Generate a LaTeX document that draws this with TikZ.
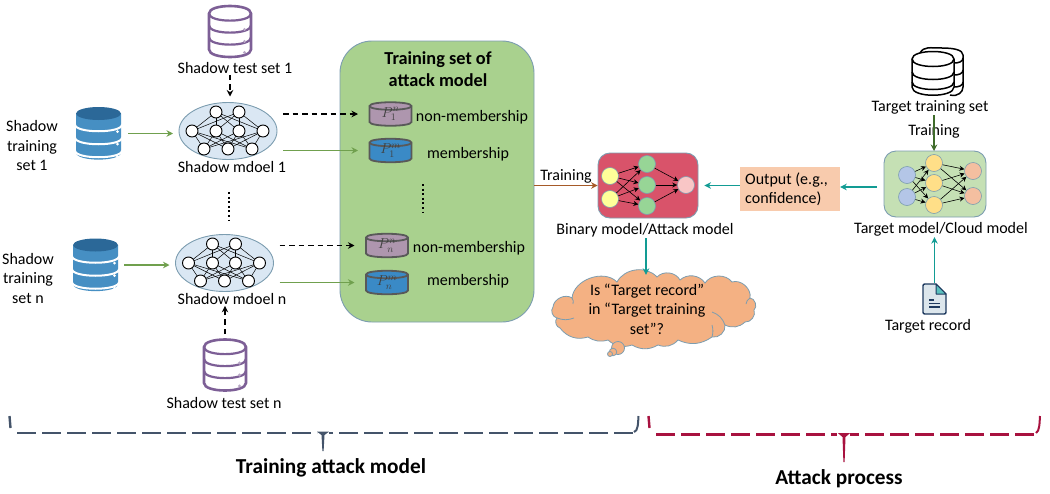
\documentclass[tikz,border=0pt]{standalone}
\usepackage{fontspec}
\setmainfont{Carlito}
\usetikzlibrary{arrows.meta,calc,shapes.geometric}
\definecolor{boxgreen}{HTML}{A9D18E}
\definecolor{boxedge}{HTML}{7C9DB0}
\definecolor{arrowgreen}{HTML}{70A04E}
\definecolor{darkgreen}{HTML}{3F6B2A}
\definecolor{teal1}{HTML}{129C94}
\definecolor{brown1}{HTML}{A65A28}
\definecolor{navy1}{HTML}{44546A}
\definecolor{crimson}{HTML}{A8123F}
\definecolor{dbblue}{HTML}{468FC3}
\definecolor{dbtop}{HTML}{2B6898}
\definecolor{dbpurple}{HTML}{7D5F96}
\definecolor{cylgray}{HTML}{595959}
\definecolor{cylpurple}{HTML}{AE96AE}
\definecolor{cylblue}{HTML}{3A8AC6}
\definecolor{ellfill}{HTML}{DAE7F3}
\definecolor{ylw}{HTML}{FFFF99}
\definecolor{grn}{HTML}{97D596}
\definecolor{pnk}{HTML}{F9C6C6}
\definecolor{bluen}{HTML}{B4C6E7}
\definecolor{ylw2}{HTML}{FFDF88}
\definecolor{sal}{HTML}{F4BFA0}
\definecolor{binred}{HTML}{D9536A}
\definecolor{cloudfill}{HTML}{F4B183}
\definecolor{outfill}{HTML}{F8CBAD}
\definecolor{tarfill}{HTML}{C5E0B4}
\definecolor{docfill}{HTML}{DCE6EC}
\definecolor{docedge}{HTML}{1F3A5F}
\definecolor{docfold}{HTML}{5BC0BE}
\tikzset{
 x=1pt,y=-1pt,
 txt/.style={inner sep=1pt,font=\fontsize{16}{19.5}\selectfont,align=center},
 ttl/.style={inner sep=1pt,font=\fontsize{18.3}{22.5}\selectfont\bfseries,align=center},
 bigttl/.style={inner sep=1pt,font=\fontsize{21.3}{25}\selectfont\bfseries,align=center},
 hole/.style={draw=none,fill=none,inner sep=0pt},
 conn/.style={line width=1.3pt,-{Stealth[length=6.5pt,width=6.5pt]}},
 dashconn/.style={conn,black,dash pattern=on 5.5pt off 4pt},
 grnconn/.style={conn,arrowgreen},
 tealconn/.style={conn,teal1},
 sn/.style={circle,draw=black,fill=white,line width=.9pt,minimum size=12pt,inner sep=0pt},
 nn/.style={circle,draw=boxedge,line width=.6pt,minimum size=17pt,inner sep=0pt},
 nedge/.style={line width=.6pt,-{Stealth[length=5pt,width=5pt]}},
 modelbox/.style={draw=boxedge,line width=.9pt,rounded corners=12pt,minimum width=100pt,minimum height=65pt},
 bluedb/.pic={
  \fill[dbblue] (-22.5,-20) -- (-22.5,19) .. controls +(0,9.5) and +(0,9.5) .. (22.5,19) -- (22.5,-20) -- cycle;
  \foreach \yy in {-9,4,17}{
   \draw[white,line width=2pt] (-23.5,\yy) .. controls +(0,9) and +(0,9) .. (23.5,\yy);}
  \fill[dbtop] (0,-20) ellipse [x radius=22.5,y radius=6.5];
  \foreach \yy in {1,13.5,26}{\fill[white] (19,\yy-3) circle (1.5pt);}
 },
 purpledb/.pic={
  \filldraw[fill=white,draw=dbpurple,line width=2.6pt] (-21,-18) -- (-21,18) .. controls +(0,10) and +(0,10) .. (21,18) -- (21,-18) .. controls +(0,-10) and +(0,-10) .. (-21,-18) -- cycle;
  \foreach \yy in {-18,-6,6}{
   \draw[dbpurple,line width=2.2pt] (-21,\yy) .. controls +(0,9.5) and +(0,9.5) .. (21,\yy);}
  \foreach \yy in {-1,11,22}{\fill[dbpurple!55] (14.5,\yy-1) circle (1.6pt);}
 },
 blackdb/.pic={
  \begin{scope}[line width=1.5pt,black]
  \draw[fill=white] (-13,-18) .. controls +(4,-7) and +(-12,0) .. (9,-23) .. controls +(12,0) and +(0,-5) .. (30,-16) -- (30,16) .. controls +(0,5) and +(8,2) .. (17,24);
  \draw (21,-8) .. controls +(4,0) and +(0,4) .. (30,-13);
  \draw (21,4) .. controls +(4,0) and +(0,4) .. (30,-1);
  \draw (21,16) .. controls +(4,0) and +(0,4) .. (30,11);
  \draw[fill=white] (-21,-12) -- (-21,16) .. controls +(0,11) and +(0,11) .. (21,16) -- (21,-12) .. controls +(0,-10) and +(0,-10) .. (-21,-12) -- cycle;
  \draw (-21,-12) .. controls +(0,10) and +(0,10) .. (21,-12);
  \draw (-21,1) .. controls +(0,10) and +(0,10) .. (21,1);
  \draw (-21,11) .. controls +(0,10) and +(0,10) .. (21,11);
  \end{scope}
 },
 cyl/.pic={
  \filldraw[fill=\cylfill,draw=cylgray,line width=1.8pt] (-21,-8) -- (-21,8) .. controls +(0,5) and +(0,5) .. (21,8) -- (21,-8) .. controls +(0,-5) and +(0,-5) .. (-21,-8) -- cycle;
  \draw[draw=cylgray,line width=1.8pt] (-21,-8) .. controls +(0,5) and +(0,5) .. (21,-8);
 },
 shadownet/.pic={
  \foreach \nm/\px/\py in {a/-12/-19,b/11/-19,c/-36/0,d/-12/0,e/11/0,f/35/0,g/-24/18,h/0/18,i/24/18}{
   \coordinate (\pname\nm) at (\px,\py);}
  \foreach \s in {a,b}{\foreach \t in {c,d,e,f}{\draw[line width=.5pt] (\pname\s) -- (\pname\t);}}
  \foreach \s in {c,d,e,f}{\foreach \t in {g,h,i}{\draw[line width=.5pt] (\pname\s) -- (\pname\t);}}
  \foreach \nm in {a,b,c,d,e,f,g,h,i}{\node[sn] at (\pname\nm) {};}
 },
}
\newcommand{\cylfill}{cylpurple}
\begin{document}
\begin{tikzpicture}
\useasboundingbox (0,0) rectangle (1050,493);
% green panel
\node[draw=boxedge,fill=boxgreen,line width=.9pt,rounded corners=32pt,minimum width=194pt,minimum height=281pt,inner sep=0pt] (panel) at (437,181.5) {};
\node[ttl] (paneltitle) at (438,69) {Training set of\\[0pt]attack model};
% left icons
\pic at (98.5,133.5) {bluedb};
\node[hole,minimum width=45pt,minimum height=53pt,outer sep=7pt] (db1) at (98.5,133.5) {};
\pic at (95.5,265) {bluedb};
\node[hole,minimum width=45pt,minimum height=53pt,outer sep=6pt] (dbn) at (95.5,265) {};
\pic at (230,31.5) {purpledb};
\node[hole,minimum width=44pt,minimum height=51pt] (test1) at (230,31.5) {};
\pic at (225,365) {purpledb};
\node[hole,minimum width=44pt,minimum height=50pt,outer sep=6pt] (testn) at (225,365) {};
% shadow models
\node[ellipse,draw=boxedge,fill=ellfill,line width=.9pt,minimum width=98pt,minimum height=57pt,inner sep=0pt,outer sep=6pt] (sm1) at (228,131) {};
\node[ellipse,draw=boxedge,fill=ellfill,line width=.9pt,minimum width=98pt,minimum height=57pt,inner sep=0pt,outer sep=6pt] (smn) at (224.5,263) {};
\def\pname{p}
\pic at (228,131) {shadownet};
\def\pname{q}
\pic at (224.5,263) {shadownet};
% texts
\node[txt] (st1) at (32,146) {Shadow\\training\\set 1};
\node[txt] (stn) at (28,278) {Shadow\\training\\set n};
\node[txt] (lt1) at (235,68) {Shadow test set 1};
\node[txt] (ltn) at (224,403) {Shadow test set n};
\node[txt] (lm1) at (232,167) {Shadow mdoel 1};
\node[txt] (lmn) at (232,299) {Shadow mdoel n};
% cylinders
\def\cylfill{cylpurple}\pic at (390.5,114) {cyl};
\def\cylfill{cylblue}\pic at (390.5,150.5) {cyl};
\def\cylfill{cylpurple}\pic at (387,245.5) {cyl};
\def\cylfill{cylblue}\pic at (387,282.5) {cyl};
\node[hole,minimum width=43pt,minimum height=24pt,outer sep=11pt] (c1n) at (390.5,114) {\raisebox{-2pt}{\fontsize{14}{14}\selectfont\color{black!75}$P_1^{n}$}};
\node[hole,minimum width=43pt,minimum height=24pt,outer sep=11pt] (c1m) at (390.5,150.5) {\raisebox{-2pt}{\fontsize{14}{14}\selectfont\color{black!75}$P_1^{m}$}};
\node[hole,minimum width=43pt,minimum height=24pt,outer sep=11pt] (cnn) at (387,245.5) {\raisebox{-2pt}{\fontsize{14}{14}\selectfont\color{black!75}$P_n^{n}$}};
\node[hole,minimum width=43pt,minimum height=24pt,outer sep=11pt] (cnm) at (387,282.5) {\raisebox{-2pt}{\fontsize{14}{14}\selectfont\color{black!75}$P_n^{m}$}};
\node[txt] (ln1) at (472,117) {non-membership};
\node[txt] (lm1b) at (468,154) {membership};
\node[txt] (lnn) at (469,248) {non-membership};
\node[txt] (lmnb) at (468,281) {membership};
% dots
\draw[line width=2pt,dash pattern=on 2pt off 2.6pt] (229,192) -- (229,221);
\draw[line width=2pt,dash pattern=on 2pt off 2.6pt] (423,184) -- (423,213);
% left connectors
\draw[grnconn] (db1.east) -- (db1.east -| sm1.west);
\draw[grnconn] (dbn.east) -- (dbn.east -| smn.west);
\draw[dashconn] (lt1.south -| test1.south) -- (test1.south |- sm1.north);
\draw[dashconn] (testn.north) -- (testn.north |- lmn.south);
\draw[dashconn] (sm1.east |- c1n.west) -- (c1n.west);
\draw[grnconn] (sm1.east |- c1m.west) -- (c1m.west);
\draw[dashconn] (smn.east |- cnn.west) -- (cnn.west);
\draw[grnconn] (smn.east |- cnm.west) -- (cnm.west);
% binary model
\node[modelbox,fill=binred] (bin) at (648,185.5) {};
\foreach \nm/\px/\py in {a/610/176,b/610/199}{\node[nn,fill=ylw] (b\nm) at (\px,\py) {};}
\foreach \nm/\px/\py in {c/647/164,d/647/185,e/647/206}{\node[nn,fill=grn] (b\nm) at (\px,\py) {};}
\node[nn,fill=pnk] (bf) at (686,185) {};
\foreach \s in {a,b}{\foreach \t in {c,d,e}{\draw[nedge] (b\s) -- (b\t);}}
\foreach \s in {c,d,e}{\draw[nedge] (b\s) -- (bf);}
\node[txt] (lbin) at (645,230) {Binary model/Attack model};
\node[txt] (ltr) at (566,176) {Training};
\draw[conn,brown1] (panel.east |- bin.west) -- (bin.west);
% cloud
\node[hole,minimum width=200pt,minimum height=62pt] (cloud) at (654,306) {};
\begin{scope}[draw=boxedge,fill=cloudfill,line width=.8pt]
\filldraw (553,307) to[bend left=60] (572,298) to[bend left=65] (617,282) to[bend left=55] (657,277)
 to[bend left=55] (680,280) to[bend left=50] (705,283) to[bend left=55] (732,282) to[bend left=60] (750,298)
 to[bend left=70] (754,310) to[bend left=60] (745,322) to[bend left=35] (725,325) to[bend left=55] (712,337)
 to[bend left=30] (678,340) to[bend left=35] (658,345) to[bend left=30] (632,345) to[bend left=30] (608,340)
 to[bend left=25] (588,337) to[bend left=35] (560,328) to[bend left=60] (557,318) to[bend left=60] (553,307) -- cycle;
\filldraw (618,348) circle (6.5pt);
\filldraw (613,352) circle (3.8pt);
\filldraw (610,354) circle (2.5pt);
\end{scope}
\draw[boxedge,line width=.8pt] (572,298) to[bend left=25] (573,304);
\draw[boxedge,line width=.8pt] (557,318) to[bend right=20] (574,318);
\draw[boxedge,line width=.8pt] (712,337) to[bend right=15] (712,325);
\draw[boxedge,line width=.8pt] (712,312) to[bend left=25] (725,325);
\draw[boxedge,line width=.8pt] (750,298) to[bend right=25] (746,304);
\node[txt,align=center] (lcloud) at (647,309) {Is “Target record”\\in “Target training\\set”?};
\draw[tealconn] (lbin.south -| cloud.north) ++(-8,0) coordinate (cfrom) -- (cfrom |- cloud.north);
% output box
\node[fill=outfill,minimum width=100pt,minimum height=44pt,inner sep=0pt] (out) at (790,189) {};
\node[txt,align=left,anchor=west] (lout) at (744,189.5) {Output (e.g.,\\confidence)};
\draw[tealconn] (out.west |- bin.east) -- ($(bin.east)+(6,0)$);
% target model
\node[modelbox,minimum width=102pt,minimum height=66pt,fill=tarfill,outer sep=0pt] (tar) at (935,184) {};
\foreach \nm/\px/\py in {a/907/175,b/907/197}{\node[nn,fill=bluen] (t\nm) at (\px,\py) {};}
\node[nn,fill=ylw2] (tc) at (934,163) {};
\node[nn,fill=ylw2] (td) at (934,183) {};
\node[nn,fill=ylw2] (te) at (934,205) {};
\node[nn,fill=sal] (tf) at (973,171) {};
\node[nn,fill=sal] (tg) at (973,196) {};
\foreach \s in {a,b}{\foreach \t in {c,d,e}{\draw[nedge] (t\s) -- (t\t);}}
\foreach \s in {c,d,e}{\foreach \t in {f,g}{\draw[nedge] (t\s) -- (t\t);}}
\node[txt] (ltar) at (941,229) {Target model/Cloud model};
\draw[tealconn] ($(tar.west)+(-7,3)$) coordinate (tfrom) -- (tfrom -| out.east);
% top right
\pic at (933,71) {blackdb};
\node[hole,minimum width=51pt,minimum height=50pt] (dbt) at (937,69) {};
\node[txt] (ltts) at (930,107) {Target training set};
\node[txt] (ltrain) at (934,131) {Training};
\draw[conn,darkgreen] (ltts.south -| ltrain.center) -- (ltrain.center |- tar.north);
% document icon
\node[hole,minimum width=24pt,minimum height=31pt] (doc) at (934.5,299) {};
\filldraw[fill=docfill,draw=docedge,line width=1.4pt,line join=round]
 (925,284) -- (936,284) -- (946,294) -- (946,312) .. controls +(0,1.5) and +(1.5,0) .. (944,314) -- (925,314) .. controls +(-1.5,0) and +(0,1.5) .. (923,312) -- (923,286) .. controls +(0,-1.5) and +(-1.5,0) .. (925,284) -- cycle;
\filldraw[fill=docfold,draw=docedge,line width=1pt,line join=round] (936,284) -- (946,294) -- (936,294) -- cycle;
\draw[docedge,line width=1.2pt] (929,300) -- (934,300) (929,303.5) -- (940,303.5) (929,307) -- (940,307);
\node[txt] (lrec) at (928,326) {Target record};
\draw[tealconn] (doc.north) -- (doc.north |- ltar.south);
% brackets
\draw[navy1,line width=2.4pt] (9.5,416) -- (10.5,428);
\draw[navy1,line width=2.6pt,dash pattern=on 19pt off 6pt] (17,433) -- (317,433);
\draw[navy1,line width=2.6pt,dash pattern=on 19pt off 6pt] (633,433) -- (329,433);
\fill[navy1] (317,431.7) -- (329,431.7) -- (324.5,435) -- (323.6,451) -- (322.4,451) -- (321.5,435) -- cycle;
\draw[navy1,line width=2pt] (638.5,416) .. controls (638,424) and (638,431) .. (634,432);
\draw[crimson,line width=2.4pt] (648.5,416) -- (649.5,428);
\draw[crimson,line width=2.6pt,dash pattern=on 19pt off 6pt] (656,434.5) -- (837,434.5);
\draw[crimson,line width=2.6pt,dash pattern=on 19pt off 6pt] (1034,434.5) -- (850,434.5);
\fill[crimson] (838,433.2) -- (850,433.2) -- (845.5,437) -- (844.6,462) -- (843.4,462) -- (842.5,437) -- cycle;
\draw[crimson,line width=2pt] (1040,416) .. controls (1039.5,424) and (1039.5,431) .. (1036,433);
\node[bigttl] (lta) at (331,468) {Training attack model};
\node[bigttl] (lap) at (839,479) {Attack process};
\end{tikzpicture}
\end{document}
